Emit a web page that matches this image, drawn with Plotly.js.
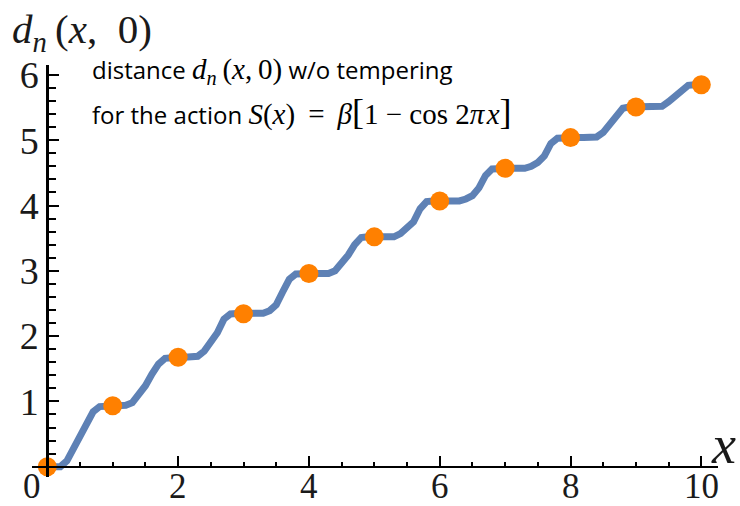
<!DOCTYPE html>
<html>
<head>
<meta charset="utf-8">
<script src="https://cdn.plot.ly/plotly-3.0.1.min.js"></script>
<style>
html,body{margin:0;padding:0;background:#fff;}
#chart{width:740px;height:506px;}
</style>
</head>
<body>
<div id="chart"></div>
<script>
const curveX = [
  0.0,0.1,0.2,0.3,0.4,0.5,0.6,0.7,0.8,0.9,
  1.0,1.1,1.2,1.3,1.4,1.5,1.6,1.7,1.8,1.9,
  2.0,2.1,2.2,2.3,2.4,2.5,2.6,2.7,2.8,2.9,
  3.0,3.1,3.2,3.3,3.4,3.5,3.6,3.7,3.8,3.9,
  4.0,4.1,4.2,4.3,4.4,4.5,4.6,4.7,4.8,4.9,
  5.0,5.1,5.2,5.3,5.4,5.5,5.6,5.7,5.8,5.9,
  6.0,6.1,6.2,6.3,6.4,6.5,6.6,6.7,6.8,6.9,
  7.0,7.1,7.2,7.3,7.4,7.5,7.6,7.7,7.8,7.9,
  8.0,8.1,8.2,8.3,8.4,8.5,8.6,8.7,8.8,8.9,
  9.0,9.1,9.2,9.3,9.4,9.5,9.6,9.7,9.8,9.9,
  10.0
];
const curveY = [
  0.00,0.00,0.00,0.09,0.27,0.47,0.67,0.84,0.92,0.93,
  0.93,0.93,0.94,0.98,1.09,1.24,1.42,1.57,1.66,1.675,
  1.675,1.675,1.675,1.69,1.77,1.90,2.05,2.26,2.34,2.345,
  2.345,2.345,2.345,2.35,2.39,2.48,2.68,2.87,2.95,2.96,
  2.96,2.96,2.96,2.96,3.00,3.11,3.24,3.40,3.51,3.52,
  3.52,3.52,3.52,3.52,3.57,3.65,3.75,3.95,4.06,4.07,
  4.07,4.07,4.07,4.07,4.10,4.15,4.27,4.46,4.56,4.57,
  4.57,4.57,4.57,4.57,4.60,4.66,4.76,4.95,5.03,5.04,
  5.04,5.04,5.04,5.04,5.05,5.12,5.24,5.40,5.49,5.51,
  5.51,5.51,5.51,5.51,5.52,5.59,5.67,5.77,5.84,5.85,
  5.85
];
// orange points at integers
const pointX = [0,1,2,3,4,5,6,7,8,9,10];
const pointY = [0,0.934,1.675,2.343,2.96,3.52,4.07,4.57,5.04,5.51,5.85];
// tick labels
const xTickVals = [0,2,4,6,8,10];
const xTickText = ['0','2','4','6','8','10'];
const yTickVals = [1,2,3,4,5,6];
const yTickText = ['1','2','3','4','5','6'];

const serif = 'Liberation Serif, Times New Roman, serif';
const sans = 'Open Sans, Noto Sans, sans-serif';
const labelColor = '#1a1a1a';

const traces = [
  {x: curveX, y: curveY, type:'scatter', mode:'lines',
   line:{color:'#5E81B5', width:7}, hoverinfo:'skip', cliponaxis:false},
  {x: pointX, y: pointY, type:'scatter', mode:'markers',
   marker:{color:'#FF8000', size:19, symbol:'circle'}, hoverinfo:'skip', cliponaxis:false}
];

// x tick labels placed under the axis (the "0" sits left of the origin as in the reference)
const xLabelAnn = xTickVals.map((v, i) => ({
  xref:'x', yref:'paper', x: v, y:-0.024, xanchor:'center', yanchor:'middle',
  xshift: (v === 0 ? -15 : 0), showarrow:false,
  text: xTickText[i], font:{family:serif, size:35, color:labelColor}
}));

const layout = {
  width:740, height:506,
  margin:{l:32, r:22, t:65, b:29},
  paper_bgcolor:'#fff', plot_bgcolor:'#fff',
  showlegend:false,
  xaxis:{
    range:[-0.234,10.255], anchor:'free', position:0.025,
    showgrid:false, zeroline:false,
    showline:true, linecolor:'#000', linewidth:2.5,
    tickmode:'array', tickvals:xTickVals, showticklabels:false,
    ticks:'inside', ticklen:10, tickwidth:2, tickcolor:'#000',
    minor:{tickmode:'linear', tick0:0, dtick:0.5, ticks:'inside', ticklen:4, tickwidth:2, tickcolor:'#000', showgrid:false}
  },
  yaxis:{
    range:[-0.158,6.152], anchor:'free', position:0.0223,
    showgrid:false, zeroline:false,
    showline:true, linecolor:'#000', linewidth:2.5,
    tickmode:'array', tickvals:yTickVals, ticktext:yTickText,
    ticks:'inside', ticklen:10, tickwidth:2, tickcolor:'#000',
    minor:{tickmode:'linear', tick0:0, dtick:0.2, ticks:'inside', ticklen:7, tickwidth:2, tickcolor:'#000', showgrid:false},
    tickfont:{family:serif, size:38, color:labelColor}
  },
  annotations: xLabelAnn.concat([
    {xref:'paper', yref:'paper', x:-0.032, y:1.080, xanchor:'left', yanchor:'middle', showarrow:false,
     text:'<i>d</i><sub><i>n</i></sub>&#8201;(<i>x</i>,&#8194;0)', font:{family:serif, size:41, color:labelColor}},
    {xref:'paper', yref:'paper', x:1.0087, y:0.078, xanchor:'center', yanchor:'middle', showarrow:false,
     text:'<i>x</i>', font:{family:serif, size:54, color:labelColor}},
    {xref:'paper', yref:'paper', x:0.0845, y:0.985, xanchor:'left', yanchor:'middle', showarrow:false,
     text:'distance <span style="font-family:Liberation Serif;font-size:29px"><i>d</i><sub><i>n</i></sub>&#8201;(<i>x</i>,&#8201;0)</span> w/o tempering',
     font:{family:sans, size:24, color:'#000'}},
    {xref:'paper', yref:'paper', x:0.0845, y:0.885, xanchor:'left', yanchor:'middle', showarrow:false,
     text:'for the action <span style="font-family:Liberation Serif;font-size:29px"><i>S</i>(<i>x</i>)&#8201; = &#8201;<i>β</i><span style="font-size:36px">[</span>1 − cos 2<i>π</i>&#8202;<i>x</i><span style="font-size:36px">]</span></span>',
     font:{family:sans, size:24, color:'#000'}}
  ])
};

Plotly.newPlot('chart', traces, layout, {staticPlot:true, displayModeBar:false});
</script>
</body>
</html>
